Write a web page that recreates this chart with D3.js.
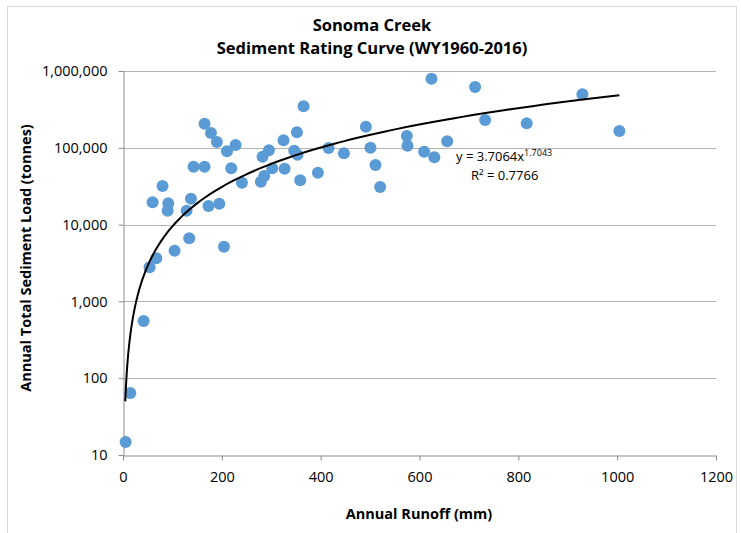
<!DOCTYPE html>
<html>
<head>
<meta charset="utf-8"/>
<title>Sonoma Creek Sediment Rating Curve</title>
<script src="https://d3js.org/d3.v7.min.js"></script>
<style>
  body { margin: 0; background: #fff; }
  svg text { font-family: "Open Sans", sans-serif; fill: #000; }
</style>
</head>
<body>
<svg id="chart" width="741" height="533"></svg>
<script>
// annual runoff (mm) and annual total sediment load (tonnes)
var runoff = [5.3, 14.8, 41.7, 53.8, 59.9, 67.4, 80, 90.3, 91.6, 104.4,
  128.7, 134, 137.5, 142.8, 165, 165, 173, 178, 190, 194.8,
  204.3, 210.4, 219, 227.8, 240.7, 279, 282.4, 285.8, 295.3, 302,
  324.8, 327, 346.5, 351.9, 353, 358.6, 365.3, 394.4, 416, 447,
  491.5, 500.8, 511, 520.4, 574.4, 575.7, 609.4, 624.2, 630, 656,
  712.6, 732.8, 817, 929.6, 1004.5];
var load = [14.8, 64, 556, 2780, 19500, 3640, 31800, 15200, 18900, 4570,
  15200, 6640, 21700, 56700, 56700, 206000, 17500, 156000, 119000, 18700,
  5150, 90000, 54100, 109000, 35100, 36200, 76600, 43000, 92700, 54000,
  125000, 53400, 91700, 159000, 81300, 37700, 347000, 47400, 99400, 84800,
  188000, 100000, 59700, 30900, 142000, 106000, 89000, 794000, 75200, 122000,
  619000, 230000, 208000, 497000, 166000];

var xTicks = [0, 200, 400, 600, 800, 1000, 1200];
var yTicks = [10, 100, 1000, 10000, 100000, 1000000];

// power trendline y = a * x^b
var trendA = 3.7064, trendB = 1.7043, trendR2 = 0.7766;

var svg = d3.select("#chart"),
    margin = {top: 71, right: 25, bottom: 78, left: 123},
    width = +svg.attr("width") - margin.left - margin.right,
    height = +svg.attr("height") - margin.top - margin.bottom;

// chart frame
svg.append("rect")
    .attr("x", 7.5).attr("y", 6.5)
    .attr("width", 729).attr("height", 540)
    .attr("fill", "#fff")
    .attr("stroke", "#d9d9d9");

var g = svg.append("g").attr("transform", "translate(" + margin.left + "," + margin.top + ")");

var x = d3.scaleLinear().domain([0, 1200]).range([0, width]);
var y = d3.scaleLog().domain([10, 1000000]).range([height, 0]);

// horizontal gridlines
g.append("g")
    .selectAll("line")
    .data(yTicks.slice(1))
    .enter().append("line")
    .attr("x1", 0).attr("x2", width)
    .attr("y1", function(d) { return Math.round(y(d)) + 0.5; })
    .attr("y2", function(d) { return Math.round(y(d)) + 0.5; })
    .attr("stroke", "#b3b3b3");

var xAxis = g.append("g")
    .attr("transform", "translate(0," + (height + 0.5) + ")")
    .call(d3.axisBottom(x).tickValues(xTicks).tickFormat(d3.format("d"))
      .tickSize(5).tickPadding(11).tickSizeOuter(0));
xAxis.select(".domain").attr("stroke", "#8c8c8c");
xAxis.selectAll(".tick line").attr("stroke", "#8c8c8c");
xAxis.selectAll("text").attr("font-size", 14.5).attr("font-family", "Open Sans");

var yAxis = g.append("g")
    .attr("transform", "translate(0.5,0)")
    .call(d3.axisLeft(y).tickValues(yTicks).tickFormat(d3.format(","))
      .tickSize(5).tickPadding(11).tickSizeOuter(0));
yAxis.select(".domain").attr("stroke", "#8c8c8c");
yAxis.selectAll(".tick line").attr("stroke", "#8c8c8c");
yAxis.selectAll("text").attr("font-size", 14.5).attr("font-family", "Open Sans");

// data points
var pts = runoff.map(function(r, i) { return {x: r, y: load[i]}; });
g.append("g")
    .selectAll("circle")
    .data(pts)
    .enter().append("circle")
    .attr("cx", function(d) { return x(d.x); })
    .attr("cy", function(d) { return y(d.y); })
    .attr("r", 6)
    .attr("fill", "#5b9bd5");

// trendline over the data range
var xMin = 4.6, xMax = d3.max(runoff);
var trend = d3.range(0, 201).map(function(i) {
  var t = xMin * Math.pow(xMax / xMin, i / 200);
  return {x: t, y: trendA * Math.pow(t, trendB)};
});
g.append("path")
    .datum(trend)
    .attr("fill", "none")
    .attr("stroke", "#000")
    .attr("stroke-width", 2)
    .attr("d", d3.line().x(function(d) { return x(d.x); }).y(function(d) { return y(d.y); }));

// equation label
var eq = svg.append("text")
    .attr("x", 456).attr("y", 161)
    .attr("font-size", 13);
eq.append("tspan").text("y = " + trendA + "x");
eq.append("tspan").attr("font-size", 9).attr("dy", -5).text(trendB);
svg.append("text")
    .attr("x", 471).attr("y", 180)
    .attr("font-size", 13)
    .text("R\u00b2 = " + trendR2);

// titles
svg.append("text")
    .attr("x", 372).attr("y", 31)
    .attr("text-anchor", "middle")
    .attr("font-size", 16.5).attr("font-weight", "bold")
    .text("Sonoma Creek");
svg.append("text")
    .attr("x", 372).attr("y", 54)
    .attr("text-anchor", "middle")
    .attr("font-size", 16.5).attr("font-weight", "bold")
    .text("Sediment Rating Curve (WY1960-2016)");

svg.append("text")
    .attr("x", 419).attr("y", 519)
    .attr("text-anchor", "middle")
    .attr("font-size", 14.5).attr("font-weight", "bold")
    .text("Annual Runoff (mm)");

svg.append("text")
    .attr("transform", "translate(31,258) rotate(-90)")
    .attr("text-anchor", "middle")
    .attr("font-size", 14.5).attr("font-weight", "bold")
    .text("Annual Total Sediment Load (tonnes)");
</script>
</body>
</html>
